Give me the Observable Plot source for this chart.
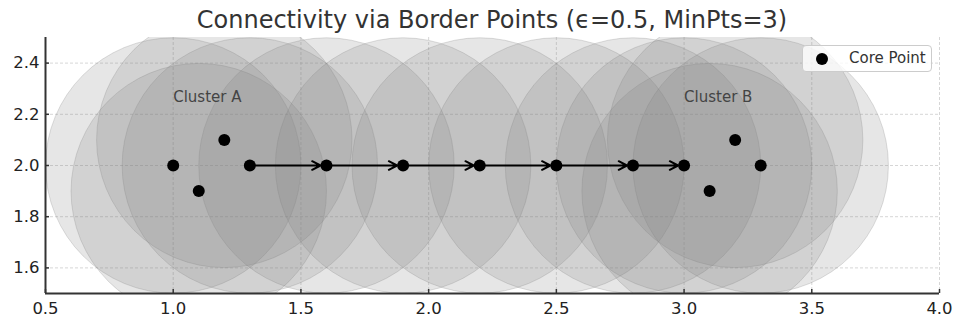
<!DOCTYPE html>
<html>
<head>
<meta charset="utf-8">
<script src="https://cdn.jsdelivr.net/npm/d3@7"></script>
<script src="https://cdn.jsdelivr.net/npm/@observablehq/plot@0.6"></script>
<style>
  body { margin: 0; background: #fff; font-family: "DejaVu Sans", sans-serif; }
  #wrap { position: relative; width: 954px; height: 320px; }
  #title { box-sizing: border-box; height: 36px; padding: 4px 15px 0 45px; line-height: 32px; font-size: 24px; color: #333; text-align: center; white-space: nowrap; }
  #legend { position: absolute; left: 802px; top: 45px; width: 130px; height: 27px; box-sizing: border-box;
    background: rgba(255,255,255,0.8); border: 1px solid #ccc; border-radius: 4px; font-size: 15px; color: #333; }
  #legend .sw { position: absolute; left: 13px; top: 7px; width: 12px; height: 12px; border-radius: 50%; background: #000; }
  #legend .lb { position: absolute; left: 46px; top: 3px; line-height: 19px; }
</style>
</head>
<body>
<div id="wrap">
  <div id="title">Connectivity via Border Points (ϵ=0.5, MinPts=3)</div>
  <div id="chart"></div>
  <div id="legend"><span class="sw"></span><span class="lb">Core Point</span></div>
</div>
<script>
const pointX = [1.0, 1.1, 1.2, 1.3, 1.6, 1.9, 2.2, 2.5, 2.8, 3.0, 3.1, 3.2, 3.3];
const pointY = [2.0, 1.9, 2.1, 2.0, 2.0, 2.0, 2.0, 2.0, 2.0, 2.0, 1.9, 2.1, 2.0];
const chainX = [1.3, 1.6, 1.9, 2.2, 2.5, 2.8, 3.0];
const chainY = [2.0, 2.0, 2.0, 2.0, 2.0, 2.0, 2.0];
const eps = 0.5;
const labelText = ["Cluster A", "Cluster B"];
const labelX = [1.0, 3.0];
const labelY = [2.25, 2.25];
const xTicks = [0.5, 1.0, 1.5, 2.0, 2.5, 3.0, 3.5, 4.0];
const yTicks = [1.6, 1.8, 2.0, 2.2, 2.4];
const xDomain = [0.5, 4.0];
const yDomain = [1.5, 2.5];

const points = pointX.map((x, i) => ({x, y: pointY[i], r: eps}));
const links = chainX.slice(0, -1).map((x, i) => ({x1: x, y1: chainY[i], x2: chainX[i + 1], y2: chainY[i + 1]}));
const labels = labelText.map((t, i) => ({t, x: labelX[i], y: labelY[i]}));

const W = 954, H = 284, mL = 45, mR = 15, mT = 1, mB = 27;
const pxPerUnit = (W - mL - mR) / (xDomain[1] - xDomain[0]);

const chart = Plot.plot({
  width: W, height: H,
  marginLeft: mL, marginRight: mR, marginTop: mT, marginBottom: mB,
  style: {fontFamily: "DejaVu Sans, sans-serif", background: "white", overflow: "visible"},
  x: {domain: xDomain},
  y: {domain: yDomain},
  r: {type: "linear", domain: [0, 1], range: [0, pxPerUnit]},
  marks: [
    Plot.gridX(xTicks, {stroke: "#c4c4c4", strokeOpacity: 0.7, strokeDasharray: "3,2"}),
    Plot.gridY(yTicks, {stroke: "#c4c4c4", strokeOpacity: 0.7, strokeDasharray: "3,2"}),
    Plot.dot(points, {x: "x", y: "y", r: "r", fill: "gray", fillOpacity: 0.2, stroke: "gray", strokeOpacity: 0.25, strokeWidth: 1, clip: true}),
    Plot.arrow(links, {x1: "x1", y1: "y1", x2: "x2", y2: "y2", stroke: "black", strokeWidth: 2, headLength: 7, headAngle: 55, insetEnd: 6}),
    Plot.dot(points, {x: "x", y: "y", r: 6, fill: "black"}),
    Plot.text(labels, {x: "x", y: "y", text: "t", textAnchor: "start", lineAnchor: "bottom", fontSize: 15, fill: "#444"}),
    Plot.ruleX(xTicks, {x: d => d, y1: yDomain[0], y2: yDomain[0], insetBottom: 4, stroke: "#333", strokeWidth: 1.5}),
    Plot.ruleY(yTicks, {y: d => d, x1: xDomain[0], x2: xDomain[0], insetRight: -4, stroke: "#333", strokeWidth: 1.5}),
    Plot.ruleX([xDomain[0]], {stroke: "#333", strokeWidth: 2}),
    Plot.ruleY([yDomain[0]], {stroke: "#333", strokeWidth: 2}),
    Plot.axisX(xTicks, {tickSize: 0, tickPadding: 9, tickFormat: d3.format(".1f"), fontSize: 16.5, fill: "#222"}),
    Plot.axisY(yTicks, {tickSize: 0, tickPadding: 6, tickFormat: d3.format(".1f"), fontSize: 16.5, fill: "#222"})
  ]
});
document.getElementById("chart").appendChild(chart);
</script>
</body>
</html>
